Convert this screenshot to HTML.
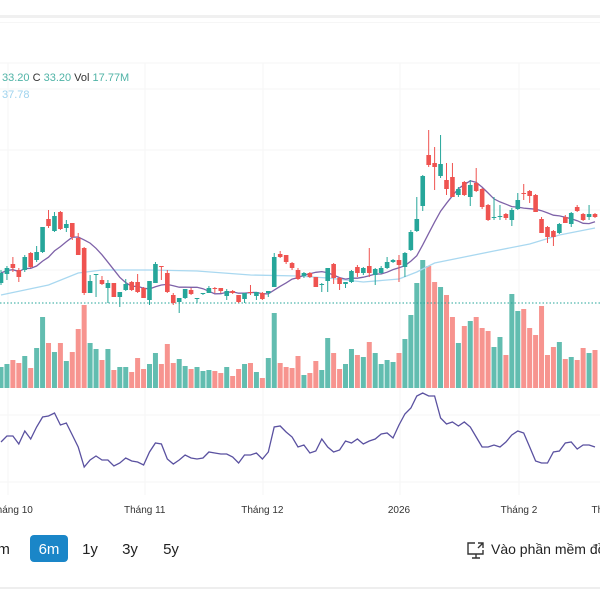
<!DOCTYPE html>
<html><head><meta charset="utf-8">
<style>
html,body{margin:0;padding:0;background:#fff;width:600px;height:600px;overflow:hidden;font-family:"Liberation Sans","Noto Sans CJK SC",sans-serif;}
#wrap{position:relative;width:600px;height:600px;}
svg{position:absolute;left:0;top:0;}
</style></head>
<body>
<div id="wrap">
<svg id="chart" width="600" height="600" viewBox="0 0 600 600">
  <rect x="0" y="15" width="600" height="3" fill="#f0f0f0"/>
  <rect x="0" y="22" width="600" height="1" fill="#f6f6f6"/>
  <g id="grid"></g>
  <g id="vol"></g>
  <line x1="0" y1="303" x2="600" y2="303" stroke="#26a69a" stroke-width="1" stroke-dasharray="1.5,2"/>
  <g id="ma"></g>
  <g id="candles"></g>
  <g id="rsi"></g>
  <text x="2" y="81" font-size="11"><tspan fill="#4fb3a6">33.20</tspan><tspan fill="#333"> C </tspan><tspan fill="#4fb3a6">33.20</tspan><tspan fill="#333"> Vol </tspan><tspan fill="#4fb3a6">17.77M</tspan></text>
  <text x="2" y="98" font-size="11" fill="#9fd3ee">37.78</text>
  <g id="xaxis" font-size="10" fill="#333"></g>
  <g font-size="15" fill="#222">
    <text x="-11" y="554">3m</text>
    <rect x="30" y="535" width="38" height="27" rx="4" fill="#1a86c8"/>
    <text x="49" y="554" text-anchor="middle" fill="#fff">6m</text>
    <text x="90" y="554" text-anchor="middle">1y</text>
    <text x="130" y="554" text-anchor="middle">3y</text>
    <text x="171" y="554" text-anchor="middle">5y</text>
  </g>
  <g>
    <g fill="none" stroke="#333" stroke-width="1.4">
      <path d="M475 543 h-7 v11 h15 v-4"/><path d="M472 558 h8 M476 554 v4"/><path d="M478 543 h5 v5 M483 543 l-5 5"/>
    </g>
    <text x="491" y="554" font-size="14" fill="#222">Vào phần mềm đồ thị</text>
  </g>
  <rect x="0" y="587" width="600" height="2" fill="#eeeeee"/>
</svg>
</div>
<script>
const opens=[47,56,66,60,60,77,70,78,111,99,118,102,107,92,82,37,55,50,42,47,33,40,48,48,42,30,47,64,57,35,28,32,40,31,36,37,42,42,34,39,35,31,38,34,37,37,43,76,75,67,60,54,57,53,45,49,66,52,46,48,63,57,64,55,57,62,68,70,63,80,99,124,175,167,154,150,153,135,148,133,147,141,125,112,113,116,110,121,137,139,135,111,103,99,97,113,106,123,116,113,116];
const closes=[57,62,62,53,73,63,78,103,104,114,101,106,93,75,37,49,56,46,47,33,38,46,40,38,32,49,66,63,38,27,32,41,36,32,37,42,41,39,39,37,28,37,37,38,31,39,73,73,68,62,51,57,53,43,46,62,52,46,48,59,57,62,57,61,62,68,70,65,77,98,111,154,165,163,166,141,133,141,135,145,139,123,110,113,114,112,120,130,136,134,118,97,93,93,106,107,117,119,110,116,113];
const highs=[60,64,73,62,75,78,84,103,120,118,119,110,107,97,83,55,56,54,50,47,38,51,49,56,43,49,68,64,60,37,32,41,42,32,37,44,43,42,41,40,35,37,45,38,38,39,77,79,75,68,62,58,58,53,47,62,67,53,48,60,65,63,82,62,64,73,71,75,78,100,133,155,200,183,195,167,167,143,149,150,162,142,126,133,125,117,122,137,146,140,136,113,104,100,107,115,118,125,117,125,117];
const lows=[45,50,58,48,58,62,68,77,102,98,100,98,90,75,35,37,33,45,27,33,23,39,39,37,32,25,47,50,37,25,17,31,35,27,35,37,37,37,30,36,27,27,35,30,30,33,43,72,66,60,50,52,52,43,38,38,46,40,42,47,53,55,53,45,56,61,67,48,53,79,98,119,163,140,152,135,133,133,134,124,138,121,109,110,110,110,104,120,130,127,118,97,87,84,96,107,103,118,109,110,112];
const volumes=[21,24,28,25,32,20,40,71,45,36,45,27,36,59,83,45,39,28,39,18,21,21,16,30,19,24,35,24,44,25,29,22,19,21,17,18,17,15,21,12,19,24,25,16,10,30,75,25,21,20,32,13,15,27,18,50,35,19,24,39,33,31,46,35,24,28,26,35,49,73,105,128,122,106,101,93,71,45,62,67,71,60,57,41,51,33,94,77,79,60,53,82,33,41,46,29,31,28,40,35,38];
const rsiValues=[48,54,54,46,59,51,63,73,74,77,65,67,55,43,23,30,34,30,30,24,27,32,29,28,25,38,47,46,31,26,30,35,32,31,32,38,37,36,36,33,27,35,35,37,31,38,63,64,58,53,43,45,37,39,51,43,38,40,49,47,51,46,49,51,56,57,52,65,76,82,94,97,94,94,72,66,68,64,68,63,53,43,43,45,43,48,55,59,57,43,29,27,27,38,39,47,48,41,45,45,43];
const maLongIdx=[0,8,13,17,25,33,42,50,55,61,67,70,73,78,83,89,94,100];
const maLongVals=[35,45,57,60,60,59,55,54,52,48,51,58,67,73,79,86,95,102];
const xTickIdx=[1.8,24.2,44,67,87.2,102.5];
const xTickLabels=["Tháng 10","Tháng 11","Tháng 12","2026","Tháng 2","Tháng 3"];

const NS="http://www.w3.org/2000/svg";
const xOf=i=>1+i*5.94;
const yPrice=p=>330-p;
const yVol=v=>388-v;
const yRsi=r=>490-r;
const GREEN="#26a69a",RED="#ef5350",VG="#62bdb0",VR="#f7948f";
function mk(tag,parent,attrs){const e=document.createElementNS(NS,tag);for(const k in attrs)e.setAttribute(k,attrs[k]);parent.appendChild(e);return e;}

const grid=document.getElementById('grid');
[8,145,263,400,519].forEach(x=>{const l=mk('line',grid,{x1:x,y1:63,x2:x,y2:495,stroke:'#f4f4f4','stroke-width':1});

});
[63,89,150,210,270,415,482].forEach(y=>{const l=mk('line',grid,{x1:0,y1:y,x2:600,y2:y,stroke:'#f6f6f6','stroke-width':1});

});

const vol=document.getElementById('vol');
volumes.forEach((v,i)=>{const up=closes[i]>=opens[i];
const r=mk('rect',vol,{x:xOf(i)-2.5,y:yVol(v),width:5,height:v,fill:up?VG:VR});

});

const cg=document.getElementById('candles');
opens.forEach((o,i)=>{const c=closes[i],up=c>=o,col=up?GREEN:RED,x=xOf(i);
const w=mk('line',cg,{x1:x,y1:yPrice(highs[i]),x2:x,y2:yPrice(lows[i]),stroke:col,'stroke-width':1});


const top=yPrice(Math.max(o,c)),h=Math.max(1,Math.abs(o-c));
const b=mk('rect',cg,{x:x-2.3,y:top,width:4.6,height:h,fill:col});

});

const ma=document.getElementById('ma');
let d='';maLongIdx.forEach((ix,k)=>{d+=(k?'L':'M')+xOf(ix).toFixed(1)+' '+yPrice(maLongVals[k]).toFixed(1);});
const ml=mk('path',ma,{d:d,fill:'none',stroke:'#a9d8f0','stroke-width':1.3});


let d2='';closes.forEach((c,i)=>{const s=closes.slice(Math.max(0,i-8),i+1);const m=s.reduce((a,b)=>a+b,0)/s.length;d2+=(i?'L':'M')+xOf(i).toFixed(1)+' '+yPrice(m).toFixed(1);});
const ms=mk('path',ma,{d:d2,fill:'none',stroke:'#7e62a8','stroke-width':1.3});



const rg=document.getElementById('rsi');
let d3='';rsiValues.forEach((r,i)=>{d3+=(i?'L':'M')+xOf(i).toFixed(1)+' '+yRsi(r).toFixed(1);});
const rl=mk('path',rg,{d:d3,fill:'none',stroke:'#5a51a0','stroke-width':1.3});



const xa=document.getElementById('xaxis');
xTickIdx.forEach((ix,k)=>{const t=mk('text',xa,{x:xOf(ix),y:513,'text-anchor':'middle'});t.textContent=xTickLabels[k];

});
</script>
</body></html>
